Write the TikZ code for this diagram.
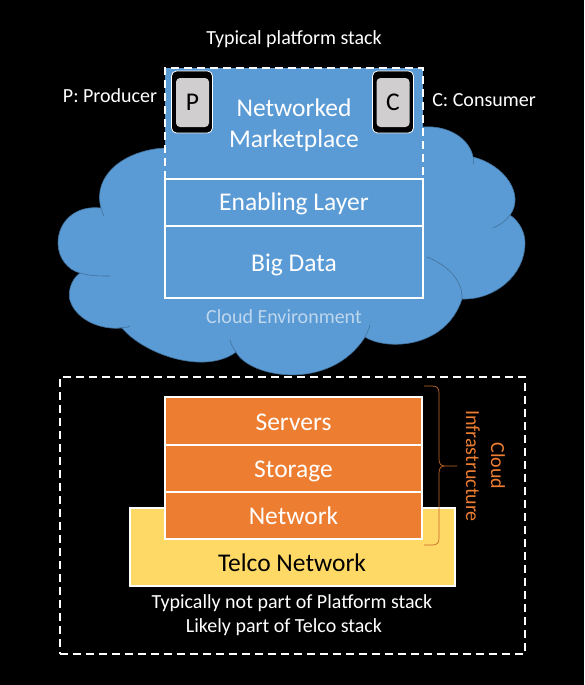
\documentclass[tikz,border=0pt]{standalone}
\usepackage{fontspec}
\setmainfont{Carlito}
\definecolor{cblue}{HTML}{5B9BD5}
\definecolor{cedge}{HTML}{41719C}
\definecolor{corange}{HTML}{ED7D31}
\definecolor{cyellow}{HTML}{FFD966}
\definecolor{cgray}{HTML}{D0CECE}
\definecolor{clight}{HTML}{BDD7EE}
\newcommand{\lowered}[2][1.5pt]{\raisebox{-#1}[\height][\depth]{#2}}
\tikzset{
  layerbox/.style={draw=white,line width=1.6pt,inner sep=0pt,outer sep=0pt,text=white,font=\fontsize{25.5}{31}\selectfont,align=center},
  bluebox/.style={layerbox,fill=cblue},
  orangebox/.style={layerbox,fill=corange},
  device/.style={draw=white,fill=black,line width=0.8pt,rounded corners=5pt,inner sep=0pt,outer sep=0pt,minimum width=41pt,minimum height=62pt},
  devicekey/.style={fill=cgray,rounded corners=4pt,inner sep=0pt,outer sep=0pt,minimum width=33pt,minimum height=49pt,text=black,font=\fontsize{25.5}{31}\selectfont},
  caption/.style={text=white,font=\fontsize{20}{25}\selectfont,inner sep=0pt,align=center},
  dashframe/.style={draw=white,line width=1.6pt,dash pattern=on 8pt off 5pt},
  arc/.style={draw=cedge,line width=0.6pt}
}
\begin{document}
\begin{tikzpicture}[x=1pt,y=-1pt]
\useasboundingbox (0,0) rectangle (584,685);
\fill[black] (0,0) rectangle (584,685);
% cloud
\draw[fill=cblue,draw=cedge,line width=0.6pt]
 (165,148) .. controls (125,150) and (92,175) .. (101,208)
 .. controls (75,205) and (58,222) .. (58,243)
 .. controls (58,258) and (68,270) .. (80,273)
 .. controls (70,280) and (67,295) .. (71,303)
 .. controls (78,320) and (100,330) .. (122,328)
 .. controls (145,355) and (205,375) .. (236,352)
 .. controls (250,378) and (330,392) .. (365,337)
 .. controls (385,350) and (445,350) .. (462,299)
 .. controls (495,300) and (525,275) .. (525,243)
 .. controls (525,233) and (520,222) .. (510,215)
 .. controls (525,195) and (505,165) .. (473,157)
 .. controls (470,140) and (450,125) .. (423,127)
 .. controls (380,100) and (200,100) .. (165,148) -- cycle;
\draw[arc] (101,208) .. controls (102,212) and (103,214) .. (104,216);
\draw[arc] (80,273) .. controls (90,276) and (100,276) .. (110,276);
\draw[arc] (122,328) .. controls (118,327) and (125,329) .. (130,326);
\draw[arc] (236,352) .. controls (233,348) and (231,344) .. (230,340);
\draw[arc] (365,337) .. controls (367,333) and (369,329) .. (370,325);
\draw[arc] (462,299) .. controls (463,280) and (447,265) .. (427,257);
\draw[arc] (510,215) .. controls (506,221) and (500,225) .. (493,228);
\draw[arc] (473,157) .. controls (473,160) and (473,162) .. (473,164);
% platform stack
\node[bluebox,draw=none,minimum width=258pt,minimum height=111pt] (market) at (294,123.5) {};
\draw[dashframe] (market.south west) -- (market.north west) -- (market.north east) -- (market.south east);
\node[font=\fontsize{25.5}{31}\selectfont,text=white,align=center,inner sep=0pt] (marketlabel) at (294,125) {Networked\\Marketplace};
\node[bluebox,minimum width=258pt,minimum height=47pt] (enabling) at (294,202.5) {\lowered[1pt]{Enabling Layer}};
\node[bluebox,minimum width=258pt,minimum height=72pt] (bigdata) at (294,262) {\lowered[3pt]{Big Data}};
\node[text=clight,font=\fontsize{20}{25}\selectfont,inner sep=0pt] (cloudenv) at (284,317) {Cloud Environment};
% devices
\node[device] (pouter) at (192,102) {};
\node[devicekey] (pkey) at (192.5,102.5) {P};
\node[device] (couter) at (393,102) {};
\node[devicekey] (ckey) at (393,102.5) {C};
% captions
\node[caption] (title) at (294,39) {Typical platform stack};
\node[caption] (producer) at (110,96) {P: Producer};
\node[caption] (consumer) at (484,100) {C: Consumer};
% lower frame
\node[dashframe,minimum width=465pt,minimum height=277pt,inner sep=0pt] (frame) at (292.5,515.5) {};
\node[layerbox,fill=cyellow,minimum width=325pt,minimum height=78pt] (telco) at (292.5,547) {};
\node[text=black,font=\fontsize{25.5}{31}\selectfont,inner sep=0pt] (telcolabel) at (292,563) {Telco Network};
\node[orangebox,minimum width=257pt,minimum height=48pt] (servers) at (293.5,421) {\lowered[1pt]{Servers}};
\node[orangebox,minimum width=257pt,minimum height=47pt] (storage) at (293.5,468.5) {\lowered[3pt]{Storage}};
\node[orangebox,minimum width=257pt,minimum height=47pt] (network) at (293.5,515.5) {Network};
% brace
\coordinate (bracetop) at (424,386);
\coordinate (bracebot) at (424,545);
\coordinate (bracetip) at (457,466);
\draw[corange!85!black,line width=0.7pt]
 (bracetop) -- (432,386) .. controls (437,386) and (439,388) .. (439,393)
 -- (439,459) .. controls (439,464) and (441,466) .. (445,466) -- (bracetip)
 (445,466) .. controls (441,466) and (439,468) .. (439,473) -- (439,538)
 .. controls (439,543) and (437,545) .. (432,545) -- (bracebot);
\node[rotate=-90,text=corange,font=\fontsize{20}{25}\selectfont,align=center,inner sep=0pt] (cloudinfra) at (485.5,466) {Cloud\\Infrastructure};
\node[caption] (notpart) at (292,603) {Typically not part of Platform stack};
\node[caption] (likely) at (284,627) {Likely part of Telco stack};
\end{tikzpicture}
\end{document}
